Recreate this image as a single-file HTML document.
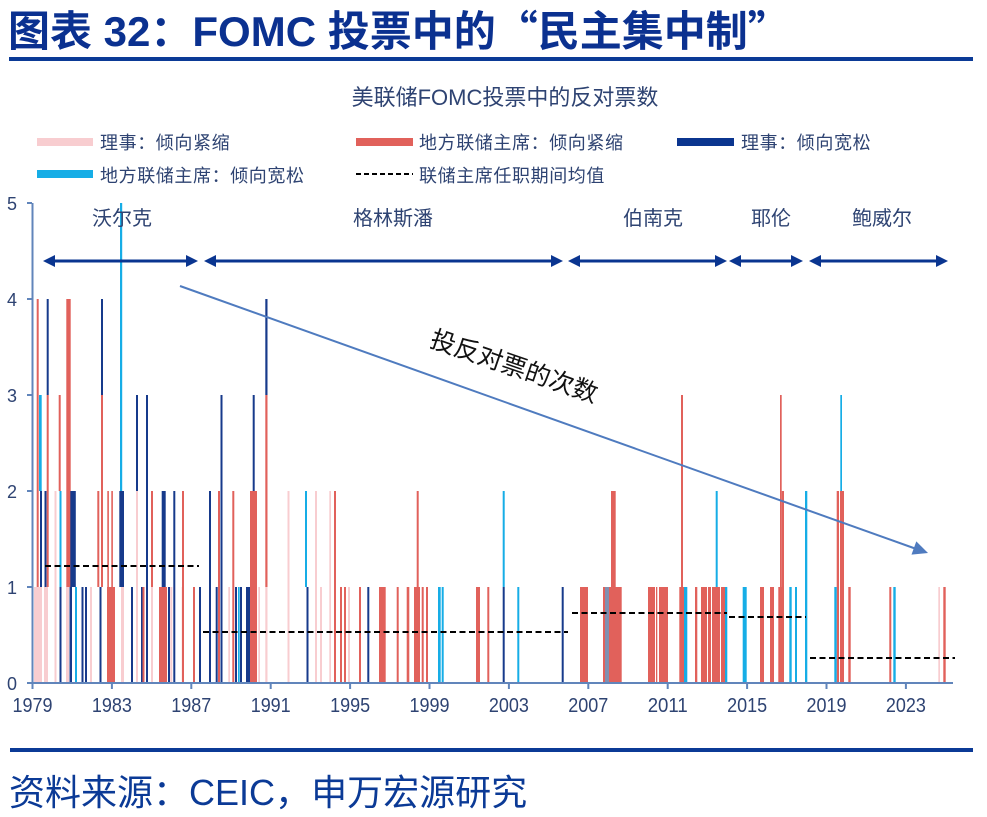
<!DOCTYPE html>
<html><head><meta charset="utf-8"><style>
html,body{margin:0;padding:0;background:#fff;}
svg{display:block;}
.p{fill:#f8cdd0}.r{fill:#e1615b}.n{fill:#173a8b}.c{fill:#16ade6}.g{fill:#8090b0}
text{font-family:"Liberation Sans","Noto Sans CJK SC",sans-serif;}
.lab{fill:#2e4372}
</style></head><body>
<svg width="987" height="817" viewBox="0 0 987 817" xmlns="http://www.w3.org/2000/svg">
<rect width="987" height="817" fill="#fff"/>
<text x="8" y="46" font-size="42" font-weight="bold" fill="#0b3190">图表 32<tspan font-family="Noto Sans CJK SC">：</tspan>FOMC 投票中的<tspan font-family="Noto Sans CJK SC">“</tspan>民主集中制<tspan font-family="Noto Sans CJK SC">”</tspan></text>
<rect x="9" y="57" width="964" height="4" fill="#0b3a96"/>
<text x="505" y="105" font-size="22" text-anchor="middle" class="lab">美联储FOMC投票中的反对票数</text>
<rect x="37" y="138" width="56" height="8" fill="#f8cdd0"/>
<text x="100" y="149" font-size="18" letter-spacing="0.6" class="lab">理事：倾向紧缩</text>
<rect x="356" y="138" width="57" height="8" fill="#e1615b"/>
<text x="419" y="149" font-size="18" letter-spacing="0.6" class="lab">地方联储主席：倾向紧缩</text>
<rect x="677" y="138" width="57" height="8" fill="#0b358f"/>
<text x="741" y="149" font-size="18" letter-spacing="0.6" class="lab">理事：倾向宽松</text>
<rect x="37" y="170" width="56" height="8" fill="#16ade6"/>
<text x="100" y="182" font-size="18" letter-spacing="0.6" class="lab">地方联储主席：倾向宽松</text>
<line x1="356" y1="174" x2="413" y2="174" stroke="#000" stroke-width="2" stroke-dasharray="5 3"/>
<text x="419" y="182" font-size="18" letter-spacing="0.6" class="lab">联储主席任职期间均值</text>
<g>
<rect class="p" x="34" y="587" width="8" height="96"/>
<rect class="p" x="44" y="587" width="4" height="96"/>
<rect class="p" x="54.5" y="491" width="2" height="192"/>
<rect class="p" x="66" y="587" width="3" height="96"/>
<rect class="p" x="90" y="587" width="2" height="96"/>
<rect class="p" x="121" y="587" width="3" height="96"/>
<rect class="p" x="136" y="491" width="2" height="192"/>
<rect class="p" x="151" y="587" width="2" height="96"/>
<rect class="p" x="170.3" y="587" width="2" height="96"/>
<rect class="p" x="181.7" y="587" width="2" height="96"/>
<rect class="p" x="228.3" y="587" width="1.7" height="96"/>
<rect class="p" x="258.3" y="587" width="1.7" height="96"/>
<rect class="p" x="265.3" y="587" width="2.2" height="96"/>
<rect class="p" x="287.5" y="491" width="2" height="192"/>
<rect class="p" x="315" y="491" width="2" height="192"/>
<rect class="p" x="320" y="587" width="2" height="96"/>
<rect class="p" x="329.3" y="491" width="1.7" height="192"/>
<rect class="p" x="348" y="587" width="2" height="96"/>
<rect class="p" x="938.3" y="587" width="1.7" height="96"/>
</g>
<g>
<rect class="r" x="36.7" y="299" width="2" height="288"/>
<rect class="r" x="46.7" y="395" width="2" height="192"/>
<rect class="r" x="58.7" y="395" width="2" height="96"/>
<rect class="r" x="66.3" y="299" width="4.4" height="288"/>
<rect class="r" x="97.3" y="491" width="2" height="96"/>
<rect class="r" x="101" y="395" width="2" height="192"/>
<rect class="r" x="107" y="587" width="8" height="96"/>
<rect class="r" x="107.3" y="491" width="1.6" height="96"/>
<rect class="r" x="111.3" y="491" width="1.6" height="96"/>
<rect class="r" x="142.5" y="587" width="2" height="96"/>
<rect class="r" x="151" y="491" width="2" height="96"/>
<rect class="r" x="159" y="587" width="8" height="96"/>
<rect class="r" x="182" y="491" width="2" height="192"/>
<rect class="r" x="193" y="587" width="2" height="96"/>
<rect class="r" x="218" y="491" width="2" height="192"/>
<rect class="r" x="232.3" y="491" width="2" height="192"/>
<rect class="r" x="250" y="491" width="7" height="192"/>
<rect class="r" x="265.3" y="395" width="2.2" height="192"/>
<rect class="r" x="334" y="491" width="2" height="192"/>
<rect class="r" x="340" y="587" width="2" height="96"/>
<rect class="r" x="344" y="587" width="2" height="96"/>
<rect class="r" x="359" y="587" width="2" height="96"/>
<rect class="r" x="379" y="587" width="6.7" height="96"/>
<rect class="r" x="396.7" y="587" width="2" height="96"/>
<rect class="r" x="406.7" y="587" width="2.6" height="96"/>
<rect class="r" x="414" y="587" width="6" height="96"/>
<rect class="r" x="416.7" y="491" width="2" height="96"/>
<rect class="r" x="421.7" y="587" width="2" height="96"/>
<rect class="r" x="426" y="587" width="2" height="96"/>
<rect class="r" x="476" y="587" width="4" height="96"/>
<rect class="r" x="487.3" y="587" width="2" height="96"/>
<rect class="r" x="580" y="587" width="8" height="96"/>
<rect class="r" x="603" y="587" width="2" height="96"/>
<rect class="r" x="609" y="587" width="12.7" height="96"/>
<rect class="r" x="611" y="491" width="4.7" height="96"/>
<rect class="r" x="648" y="587" width="7" height="96"/>
<rect class="r" x="656" y="587" width="1.3" height="96"/>
<rect class="r" x="659" y="587" width="9" height="96"/>
<rect class="r" x="679.3" y="587" width="4.7" height="96"/>
<rect class="r" x="681" y="395" width="2" height="192"/>
<rect class="r" x="695" y="587" width="2.3" height="96"/>
<rect class="r" x="701" y="587" width="6" height="96"/>
<rect class="r" x="708" y="587" width="3" height="96"/>
<rect class="r" x="712" y="587" width="8" height="96"/>
<rect class="r" x="721" y="587" width="4" height="96"/>
<rect class="r" x="760" y="587" width="4" height="96"/>
<rect class="r" x="770" y="587" width="4" height="96"/>
<rect class="r" x="778.3" y="587" width="5.7" height="96"/>
<rect class="r" x="781.7" y="491" width="2.3" height="96"/>
<rect class="r" x="780" y="395" width="1.7" height="192"/>
<rect class="r" x="836.7" y="491" width="2.3" height="192"/>
<rect class="r" x="840" y="491" width="4" height="192"/>
<rect class="r" x="848.3" y="587" width="2.4" height="96"/>
<rect class="r" x="889.3" y="587" width="2" height="96"/>
<rect class="r" x="943.3" y="587" width="2.4" height="96"/>
<rect class="g" x="605" y="587" width="4" height="96"/>
</g>
<g>
<rect class="n" x="40" y="491" width="2" height="96"/>
<rect class="n" x="44.5" y="491" width="2" height="96"/>
<rect class="n" x="46.7" y="299" width="2" height="96"/>
<rect class="n" x="59.5" y="587" width="2" height="96"/>
<rect class="n" x="69.5" y="587" width="2.5" height="96"/>
<rect class="n" x="70.3" y="491" width="5.5" height="96"/>
<rect class="n" x="81.5" y="587" width="2" height="96"/>
<rect class="n" x="85" y="587" width="2" height="96"/>
<rect class="n" x="99.5" y="587" width="2" height="96"/>
<rect class="n" x="101" y="299" width="2" height="96"/>
<rect class="n" x="119.3" y="491" width="4.7" height="96"/>
<rect class="n" x="131" y="587" width="2" height="96"/>
<rect class="n" x="136" y="395" width="2" height="96"/>
<rect class="n" x="141" y="587" width="1.5" height="96"/>
<rect class="n" x="146" y="395" width="2" height="288"/>
<rect class="n" x="161.7" y="491" width="4" height="96"/>
<rect class="n" x="168" y="587" width="2" height="96"/>
<rect class="n" x="173.3" y="491" width="2" height="192"/>
<rect class="n" x="199" y="587" width="2" height="96"/>
<rect class="n" x="209" y="491" width="2" height="192"/>
<rect class="n" x="215.7" y="587" width="2" height="96"/>
<rect class="n" x="220.5" y="395" width="2" height="288"/>
<rect class="n" x="235" y="587" width="2" height="96"/>
<rect class="n" x="240" y="587" width="2" height="96"/>
<rect class="n" x="246" y="587" width="4" height="96"/>
<rect class="n" x="252.7" y="395" width="2" height="96"/>
<rect class="n" x="265.3" y="299" width="2.2" height="96"/>
<rect class="n" x="306.5" y="587" width="2" height="96"/>
<rect class="n" x="367.3" y="587" width="2" height="96"/>
<rect class="n" x="502.7" y="587" width="2" height="96"/>
<rect class="n" x="561.7" y="587" width="2" height="96"/>
</g>
<g>
<rect class="c" x="39" y="395" width="2.7" height="96"/>
<rect class="c" x="59.5" y="491" width="2" height="96"/>
<rect class="c" x="75" y="587" width="2" height="96"/>
<rect class="c" x="120" y="203" width="2.2" height="288"/>
<rect class="c" x="238" y="587" width="1.7" height="96"/>
<rect class="c" x="305" y="491" width="2" height="96"/>
<rect class="c" x="438" y="587" width="2.7" height="96"/>
<rect class="c" x="441.7" y="587" width="2" height="96"/>
<rect class="c" x="502.7" y="491" width="2" height="96"/>
<rect class="c" x="517.3" y="587" width="2" height="96"/>
<rect class="c" x="684" y="587" width="3.3" height="96"/>
<rect class="c" x="715.7" y="491" width="2" height="96"/>
<rect class="c" x="725" y="587" width="2.3" height="96"/>
<rect class="c" x="742.7" y="587" width="4" height="96"/>
<rect class="c" x="789.3" y="587" width="2.4" height="96"/>
<rect class="c" x="795" y="587" width="2" height="96"/>
<rect class="c" x="805" y="491" width="2.3" height="192"/>
<rect class="c" x="834.3" y="587" width="2.4" height="96"/>
<rect class="c" x="840.3" y="395" width="1.7" height="96"/>
<rect class="c" x="893.3" y="587" width="2.4" height="96"/>
</g>
<g stroke="#000" stroke-width="2" stroke-dasharray="6 3.5" fill="none">
<line x1="45" y1="566" x2="199" y2="566"/>
<line x1="203" y1="632" x2="568" y2="632"/>
<line x1="572" y1="613" x2="727" y2="613"/>
<line x1="729" y1="617" x2="806" y2="617"/>
<line x1="810" y1="658" x2="955" y2="658"/>
</g>
<g stroke="#6185bb" stroke-width="2" fill="none">
<line x1="32.5" y1="203" x2="32.5" y2="684"/>
<line x1="32" y1="683" x2="953" y2="683"/>
<line x1="27" y1="203" x2="32" y2="203"/>
<line x1="27" y1="299" x2="32" y2="299"/>
<line x1="27" y1="395" x2="32" y2="395"/>
<line x1="27" y1="491" x2="32" y2="491"/>
<line x1="27" y1="587" x2="32" y2="587"/>
<line x1="27" y1="683" x2="32" y2="683"/>
<line x1="32.5" y1="683" x2="32.5" y2="689"/>
<line x1="111.9" y1="683" x2="111.9" y2="689"/>
<line x1="191.3" y1="683" x2="191.3" y2="689"/>
<line x1="270.7" y1="683" x2="270.7" y2="689"/>
<line x1="350.1" y1="683" x2="350.1" y2="689"/>
<line x1="429.5" y1="683" x2="429.5" y2="689"/>
<line x1="508.9" y1="683" x2="508.9" y2="689"/>
<line x1="588.3" y1="683" x2="588.3" y2="689"/>
<line x1="667.7" y1="683" x2="667.7" y2="689"/>
<line x1="747.1" y1="683" x2="747.1" y2="689"/>
<line x1="826.5" y1="683" x2="826.5" y2="689"/>
<line x1="905.9" y1="683" x2="905.9" y2="689"/>
</g>
<g font-size="18" class="lab" text-anchor="end">
<text x="17" y="210">5</text>
<text x="17" y="306">4</text>
<text x="17" y="402">3</text>
<text x="17" y="498">2</text>
<text x="17" y="594">1</text>
<text x="17" y="690">0</text>
</g>
<g font-size="20.5" class="lab" text-anchor="middle">
<text x="32.5" y="712" textLength="40" lengthAdjust="spacingAndGlyphs">1979</text>
<text x="111.9" y="712" textLength="40" lengthAdjust="spacingAndGlyphs">1983</text>
<text x="191.3" y="712" textLength="40" lengthAdjust="spacingAndGlyphs">1987</text>
<text x="270.7" y="712" textLength="40" lengthAdjust="spacingAndGlyphs">1991</text>
<text x="350.1" y="712" textLength="40" lengthAdjust="spacingAndGlyphs">1995</text>
<text x="429.5" y="712" textLength="40" lengthAdjust="spacingAndGlyphs">1999</text>
<text x="508.9" y="712" textLength="40" lengthAdjust="spacingAndGlyphs">2003</text>
<text x="588.3" y="712" textLength="40" lengthAdjust="spacingAndGlyphs">2007</text>
<text x="667.7" y="712" textLength="40" lengthAdjust="spacingAndGlyphs">2011</text>
<text x="747.1" y="712" textLength="40" lengthAdjust="spacingAndGlyphs">2015</text>
<text x="826.5" y="712" textLength="40" lengthAdjust="spacingAndGlyphs">2019</text>
<text x="905.9" y="712" textLength="40" lengthAdjust="spacingAndGlyphs">2023</text>
</g>
<g fill="#0a3590">
<rect x="54" y="259.5" width="133" height="3"/>
<polygon points="43,261 55,255 55,267"/><polygon points="198,261 186,255 186,267"/>
<rect x="215" y="259.5" width="337" height="3"/>
<polygon points="204,261 216,255 216,267"/><polygon points="563,261 551,255 551,267"/>
<rect x="579" y="259.5" width="137" height="3"/>
<polygon points="568,261 580,255 580,267"/><polygon points="727,261 715,255 715,267"/>
<rect x="740" y="259.5" width="52" height="3"/>
<polygon points="729,261 741,255 741,267"/><polygon points="803,261 791,255 791,267"/>
<rect x="820" y="259.5" width="117" height="3"/>
<polygon points="809,261 821,255 821,267"/><polygon points="948,261 936,255 936,267"/>
</g>
<g font-size="20" class="lab" text-anchor="middle">
<text x="122" y="225">沃尔克</text>
<text x="393" y="225">格林斯潘</text>
<text x="653" y="225">伯南克</text>
<text x="771" y="225">耶伦</text>
<text x="882" y="225">鲍威尔</text>
</g>
<line x1="180" y1="286" x2="915" y2="548.5" stroke="#4f7bbf" stroke-width="2"/>
<polygon points="928,553 911.5,554.6 916.3,541.4" fill="#4f7bbf"/>
<text x="514" y="367" font-size="25" fill="#111" text-anchor="middle" dominant-baseline="central" transform="rotate(19 514 367)">投反对票的次数</text>
<rect x="10" y="748" width="963" height="4" fill="#0b3a96"/>
<text x="9" y="805" font-size="36" fill="#0b3a96">资料来源<tspan font-family="Noto Sans CJK SC">：</tspan>CEIC<tspan font-family="Noto Sans CJK SC">，</tspan>申万宏源研究</text>
</svg>
</body></html>
